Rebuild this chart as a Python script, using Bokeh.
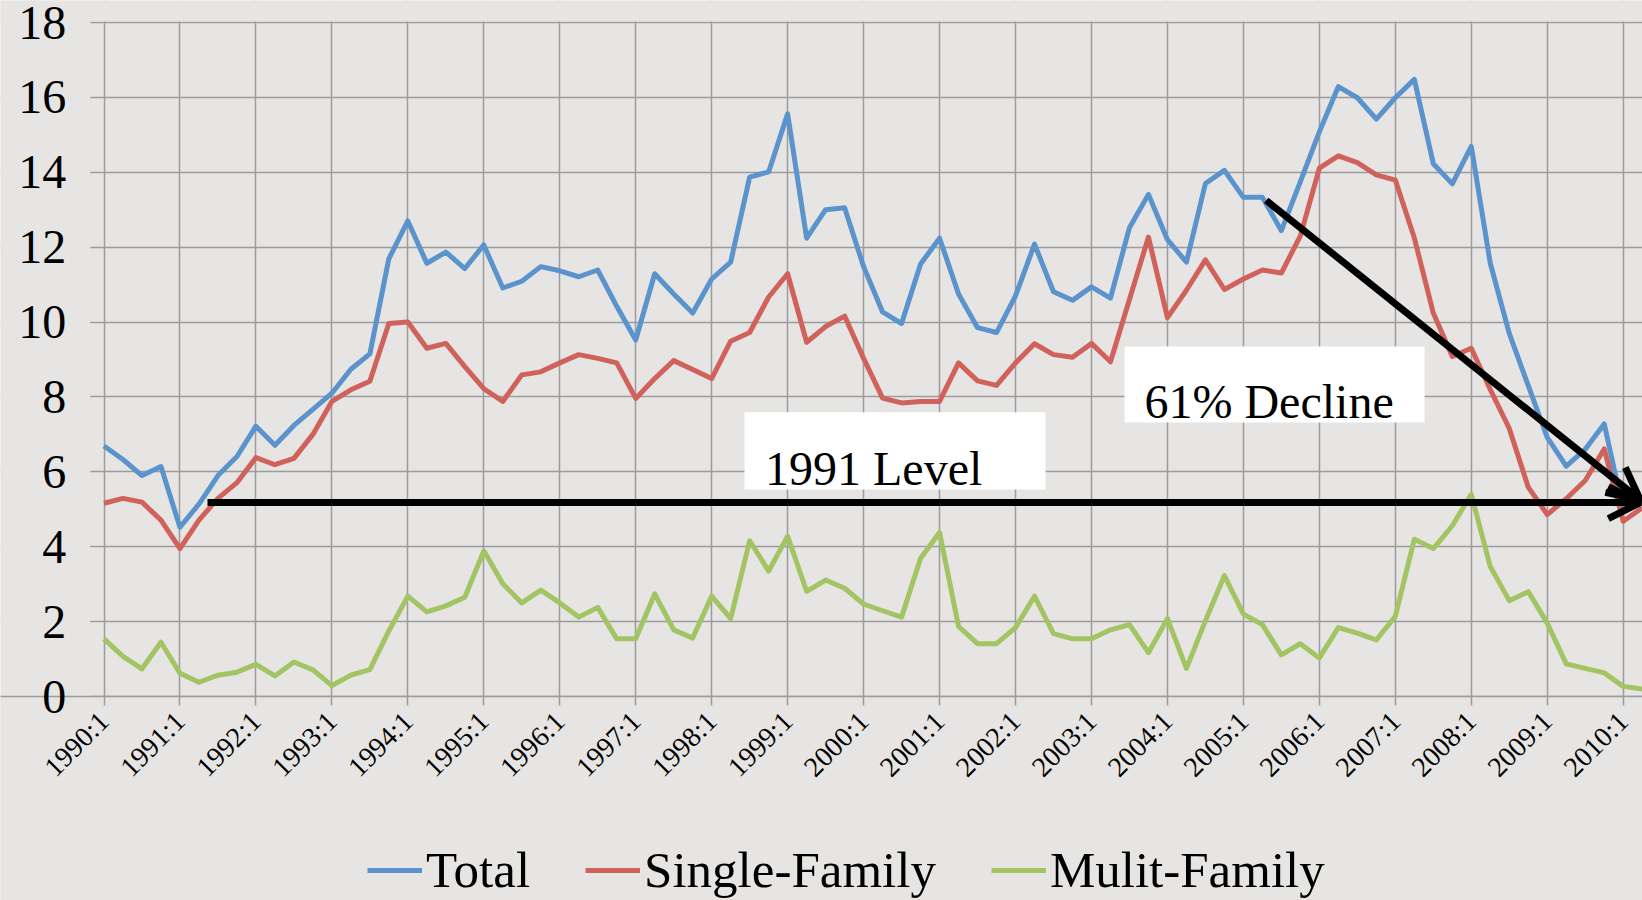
from bokeh.plotting import figure
from bokeh.models import (FixedTicker, Range1d, Legend, LegendItem, Arrow, OpenHead,
                          BoxAnnotation, Label)
from bokeh.embed import file_html
from bokeh.resources import INLINE

# ---------------- data (quarterly, 1990:1 .. 2010:2) ----------------
years = list(range(1990, 2011))
quarters = [f"{y}:{q}" for y in years for q in (1, 2, 3, 4)][:82]

total = [
    6.69, 6.33, 5.90, 6.14,
    4.52, 5.14, 5.90, 6.41,
    7.22, 6.71, 7.24, 7.67,
    8.10, 8.74, 9.15, 11.69,
    12.70, 11.57, 11.87, 11.43,
    12.06, 10.91, 11.09, 11.48,
    11.37, 11.21, 11.39, 10.42,
    9.52, 11.29, 10.75, 10.24,
    11.15, 11.60, 13.87, 14.01,
    15.56, 12.24, 13.00, 13.05,
    11.48, 10.27, 9.96, 11.55,
    12.24, 10.75, 9.85, 9.72,
    10.70, 12.08, 10.81, 10.58,
    10.94, 10.64, 12.52, 13.41,
    12.20, 11.60, 13.70, 14.05,
    13.33, 13.33, 12.44, 13.75,
    15.08, 16.29, 15.99, 15.42,
    15.99, 16.48, 14.23, 13.69,
    14.69, 11.57, 9.70, 8.30,
    6.92, 6.15, 6.60, 7.28,
    4.98, 5.25,
]
single_family = [
    5.16, 5.29, 5.19, 4.71,
    3.95, 4.71, 5.29, 5.71,
    6.38, 6.19, 6.36, 7.00,
    7.88, 8.19, 8.42, 9.96,
    10.00, 9.30, 9.43, 8.81,
    8.22, 7.88, 8.59, 8.67,
    8.91, 9.13, 9.03, 8.91,
    7.96, 8.49, 8.97, 8.73,
    8.49, 9.49, 9.72, 10.67,
    11.29, 9.46, 9.88, 10.16,
    9.03, 7.97, 7.84, 7.88,
    7.88, 8.91, 8.43, 8.31,
    8.91, 9.42, 9.13, 9.06,
    9.43, 8.94, 10.60, 12.27,
    10.12, 10.85, 11.66, 10.87,
    11.15, 11.39, 11.31, 12.30,
    14.11, 14.44, 14.26, 13.93,
    13.79, 12.25, 10.24, 9.08,
    9.30, 8.20, 7.16, 5.59,
    4.86, 5.28, 5.77, 6.61,
    4.68, 5.04,
]
multi_family = [
    1.54, 1.07, 0.74, 1.45,
    0.62, 0.38, 0.57, 0.65,
    0.86, 0.55, 0.92, 0.71,
    0.29, 0.57, 0.72, 1.75,
    2.68, 2.26, 2.42, 2.65,
    3.89, 3.01, 2.50, 2.84,
    2.50, 2.12, 2.38, 1.54,
    1.54, 2.74, 1.78, 1.56,
    2.68, 2.08, 4.16, 3.35,
    4.28, 2.81, 3.11, 2.89,
    2.47, 2.29, 2.12, 3.69,
    4.38, 1.87, 1.41, 1.41,
    1.84, 2.68, 1.68, 1.54,
    1.54, 1.78, 1.92, 1.17,
    2.08, 0.75, 2.02, 3.23,
    2.20, 1.92, 1.11, 1.41,
    1.03, 1.84, 1.69, 1.51,
    2.14, 4.20, 3.95, 4.56,
    5.40, 3.47, 2.56, 2.80,
    1.96, 0.87, 0.75, 0.63,
    0.27, 0.20,
]
tick_labels = ["1990:1", "1991:1", "1992:1", "1993:1", "1994:1", "1995:1", "1996:1",
               "1997:1", "1998:1", "1999:1", "2000:1", "2001:1", "2002:1", "2003:1",
               "2004:1", "2005:1", "2006:1", "2007:1", "2008:1", "2009:1", "2010:1"]
y_ticks = [0, 2, 4, 6, 8, 10, 12, 14, 16, 18]
series_names = ["Total", "Single-Family", "Mulit-Family"]

# ---------------- layout constants ----------------
W, H = 1642, 900
X0_PX = 103.5          # pixel of first quarter
Q_PX = 18.99           # pixels per quarter
ZERO_PX = 696.0        # pixel of value 0
U_PX = 37.444          # pixels per unit
AREA_LEFT = -0.72      # left edge of plotting area (quarter index)
Y_TOP = 18

x_lo = -X0_PX / Q_PX
x_hi = (W - X0_PX) / Q_PX
y_hi = ZERO_PX / U_PX
y_lo = -(H - ZERO_PX) / U_PX

# annotations (data units: quarter index, value)
X_END = 80.9
level_arrow = dict(x_start=5.45, y_start=5.18, x_end=X_END, y_end=5.18)
decline_arrow = dict(x_start=61.2, y_start=13.25, x_end=X_END, y_end=5.25)
level_box = dict(left=33.73, right=49.58, bottom=5.53, top=7.59)
decline_box = dict(left=53.74, right=69.54, bottom=7.32, top=9.35)
level_text = dict(x=34.81, y=6.09, text="1991 Level")
decline_text = dict(x=54.79, y=7.88, text="61% Decline")

# ---------------- styling ----------------
FONT = "Liberation Serif"
BG = "#E6E5E3"
GRID = "#9C9C9C"
colors = ["#5B93CC", "#D0615B", "#A3C463"]

x = list(range(len(quarters)))
tick_pos = [quarters.index(t) for t in tick_labels]

p = figure(width=W, height=H, output_backend="svg", toolbar_location=None,
           x_range=Range1d(x_lo, x_hi), y_range=Range1d(y_lo, y_hi),
           min_border=0, min_border_left=0, min_border_right=0,
           min_border_top=0, min_border_bottom=0)
p.background_fill_color = BG
p.border_fill_color = BG
p.outline_line_color = None

p.xaxis.fixed_location = 0
p.xaxis.ticker = FixedTicker(ticks=tick_pos)
p.xaxis.major_label_overrides = {pos: lab for pos, lab in zip(tick_pos, tick_labels)}
p.xaxis.major_label_orientation = 0.785398
p.xaxis.major_label_text_font = FONT
p.xaxis.major_label_text_font_size = "28px"
p.xaxis.major_label_text_color = "black"
p.xaxis.major_label_standoff = 11
p.xaxis.axis_line_color = GRID
p.xaxis.axis_line_width = 1.5
p.xaxis.major_tick_line_color = GRID
p.xaxis.major_tick_line_width = 1.5
p.xaxis.major_tick_out = 9
p.xaxis.major_tick_in = 0
p.xaxis.minor_tick_line_color = None

p.yaxis.fixed_location = AREA_LEFT
p.yaxis.ticker = FixedTicker(ticks=y_ticks)
p.yaxis.major_label_text_font = FONT
p.yaxis.major_label_text_font_size = "48px"
p.yaxis.major_label_text_color = "black"
p.yaxis.major_label_standoff = 24
p.yaxis.axis_line_color = None
p.yaxis.major_tick_line_color = None
p.yaxis.major_tick_out = 0
p.yaxis.major_tick_in = 0
p.yaxis.minor_tick_line_color = None

p.grid.grid_line_color = GRID
p.grid.grid_line_width = 1.5

# trim the grid to the plotting area (0..18, from AREA_LEFT rightwards)
p.add_layout(BoxAnnotation(top=0, fill_color=BG, fill_alpha=1.0, line_color=None,
                           level="underlay"))
p.add_layout(BoxAnnotation(bottom=Y_TOP + 0.025, fill_color=BG, fill_alpha=1.0,
                           line_color=None, level="underlay"))
p.add_layout(BoxAnnotation(right=AREA_LEFT, fill_color=BG, fill_alpha=1.0,
                           line_color=None, level="underlay"))

renderers = []
for vals, col in zip([total, single_family, multi_family], colors):
    r = p.line(x, vals, line_color=col, line_width=5, line_join="round")
    renderers.append(r)

p.add_layout(BoxAnnotation(fill_color="white", fill_alpha=1.0, line_color=None, **level_box))
p.add_layout(BoxAnnotation(fill_color="white", fill_alpha=1.0, line_color=None, **decline_box))
for t in (level_text, decline_text):
    p.add_layout(Label(text_font=FONT, text_font_size="48px", text_color="black",
                       text_align="left", text_baseline="alphabetic", **t))

for a in (level_arrow, decline_arrow):
    p.add_layout(Arrow(line_color="black", line_width=7,
                       end=OpenHead(size=32, line_width=7, line_color="black"), **a))

legend = Legend(items=[LegendItem(label=n, renderers=[r]) for n, r in zip(series_names, renderers)],
                orientation="horizontal", location=(367, 1),
                glyph_width=55, glyph_height=50, label_height=50, label_standoff=4,
                spacing=55, padding=0, margin=0, border_line_color=None,
                background_fill_alpha=0, label_text_font=FONT,
                label_text_font_size="51px", label_text_color="black")
p.add_layout(legend, "center")

open("out.html", "w").write(file_html(p, INLINE))
